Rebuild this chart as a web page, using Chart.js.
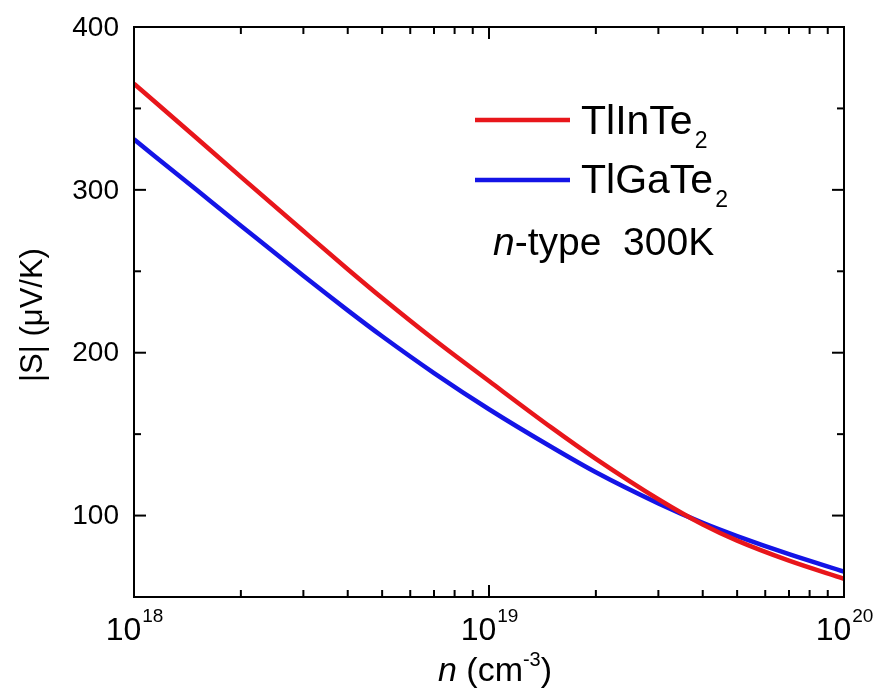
<!DOCTYPE html>
<html>
<head>
<meta charset="utf-8">
<script src="https://cdn.jsdelivr.net/npm/chart.js@4"></script>
<style>
  body { margin: 0; background: #fff; }
  canvas { display: block; }
</style>
</head>
<body>
<canvas id="grafico" width="879" height="696"></canvas>
<script>
// carrier concentration (cm^-3)
const conc = [1e18, 1.5e18, 2e18, 3e18, 4e18, 5e18, 7e18, 1e19, 1.5e19, 2e19, 3e19, 4e19, 5e19, 7e19, 1e20];
// |S| in uV/K
const tlInTe2 = [365.2, 331.8, 308, 274.7, 251.3, 233.6, 208.1, 182.6, 154, 134.8, 110, 94.5, 84.6, 72.3, 61.2];
const tlGaTe2 = [331, 300, 278, 247.2, 226, 210.1, 187.5, 165.3, 142.1, 126.6, 107.5, 95.5, 87.4, 76.3, 65.6];

const yTicks = [100, 200, 300, 400];
const yMinor = [150, 250, 350];
const xDecades = [18, 19, 20];

const FONT = '"Liberation Sans", Arial, sans-serif';

const toPoints = (ys) => conc.map((x, i) => ({ x: x, y: ys[i] }));

// draws frame, inward ticks, labels, titles and the legend box
const ejes = {
    id: 'ejes',
    afterDraw(chart) {
        const ctx = chart.ctx;
        const a = chart.chartArea;
        const xs = chart.scales.x;
        const ys = chart.scales.y;
        ctx.save();
        ctx.strokeStyle = '#000';
        ctx.fillStyle = '#000';
        ctx.lineWidth = 2;
        ctx.strokeRect(a.left, a.top, a.right - a.left, a.bottom - a.top);

        const tick = (x1, y1, x2, y2) => {
            ctx.beginPath(); ctx.moveTo(x1, y1); ctx.lineTo(x2, y2); ctx.stroke();
        };

        // y ticks (left and right)
        yTicks.forEach(v => {
            const p = ys.getPixelForValue(v);
            tick(a.left, p, a.left + 12, p);
            tick(a.right, p, a.right - 12, p);
        });
        yMinor.forEach(v => {
            const p = ys.getPixelForValue(v);
            tick(a.left, p, a.left + 7, p);
            tick(a.right, p, a.right - 7, p);
        });

        // x ticks (bottom and top)
        xDecades.forEach((d, i) => {
            const p = xs.getPixelForValue(Math.pow(10, d));
            tick(p, a.bottom, p, a.bottom - 12);
            tick(p, a.top, p, a.top + 12);
            if (i < xDecades.length - 1) {
                for (let m = 2; m <= 9; m++) {
                    const q = xs.getPixelForValue(m * Math.pow(10, d));
                    tick(q, a.bottom, q, a.bottom - 7);
                    tick(q, a.top, q, a.top + 7);
                }
            }
        });

        // y tick labels
        ctx.font = '28px ' + FONT;
        ctx.textAlign = 'right';
        ctx.textBaseline = 'middle';
        yTicks.forEach(v => {
            ctx.fillText(String(v), a.left - 15, ys.getPixelForValue(v) + 1);
        });

        // x tick labels 10^n
        ctx.textBaseline = 'alphabetic';
        ctx.textAlign = 'left';
        xDecades.forEach(d => {
            const p = xs.getPixelForValue(Math.pow(10, d));
            ctx.font = '32px ' + FONT;
            const w1 = ctx.measureText('10').width;
            ctx.font = '19px ' + FONT;
            const w2 = ctx.measureText(String(d)).width;
            const x0 = p - (w1 + w2) / 2;
            ctx.font = '32px ' + FONT;
            ctx.fillText('10', x0, 640);
            ctx.font = '19px ' + FONT;
            ctx.fillText(String(d), x0 + w1 + 1, 622);
        });

        // x title: n (cm^-3)
        const cx = (a.left + a.right) / 2;
        ctx.font = 'italic 34px ' + FONT;
        const wn = ctx.measureText('n').width;
        ctx.font = '34px ' + FONT;
        const wa = ctx.measureText(' (cm').width;
        const wc = ctx.measureText(')').width;
        ctx.font = '20px ' + FONT;
        const ws = ctx.measureText('-3').width;
        let x = cx - (wn + wa + ws + wc) / 2 + 6;
        const by = 681;
        ctx.font = 'italic 34px ' + FONT;
        ctx.fillText('n', x, by); x += wn;
        ctx.font = '34px ' + FONT;
        ctx.fillText(' (cm', x, by); x += wa;
        ctx.font = '20px ' + FONT;
        ctx.fillText('-3', x, by - 15); x += ws;
        ctx.font = '34px ' + FONT;
        ctx.fillText(')', x, by);

        // y title
        ctx.save();
        ctx.translate(33, (a.top + a.bottom) / 2 + 3);
        ctx.rotate(-Math.PI / 2);
        ctx.textAlign = 'center';
        ctx.textBaseline = 'middle';
        ctx.font = '31px ' + FONT;
        ctx.fillText('|S| (\u03bcV/K)', 0, 0);
        ctx.restore();

        // legend
        const filas = [
            { color: chart.data.datasets[0].borderColor, nombre: 'TlInTe', ly: 120, base: 134 },
            { color: chart.data.datasets[1].borderColor, nombre: 'TlGaTe', ly: 180, base: 193 }
        ];
        filas.forEach(f => {
            ctx.strokeStyle = f.color;
            ctx.lineWidth = 4.5;
            tick(475, f.ly, 570, f.ly);
            ctx.font = '41px ' + FONT;
            ctx.fillText(f.nombre, 581, f.base);
            const w = ctx.measureText(f.nombre).width;
            ctx.font = '23px ' + FONT;
            ctx.fillText('2', 581 + w + 2, f.base + 14);
        });
        ctx.font = 'italic 39px ' + FONT;
        ctx.fillText('n', 493, 255);
        const wi = ctx.measureText('n').width;
        ctx.font = '39px ' + FONT;
        ctx.fillText('-type  300K', 493 + wi, 255);

        ctx.restore();
    }
};

const ctx = document.getElementById('grafico').getContext('2d');
const grafico = new Chart(ctx, {
    type: 'line',
    data: {
        datasets: [
            {
                label: 'TlInTe2',
                data: toPoints(tlInTe2),
                borderColor: '#e8161b',
                borderWidth: 4.5,
                pointRadius: 0,
                fill: false,
                cubicInterpolationMode: 'monotone'
            },
            {
                label: 'TlGaTe2',
                data: toPoints(tlGaTe2),
                borderColor: '#1414e6',
                borderWidth: 4.5,
                pointRadius: 0,
                fill: false,
                cubicInterpolationMode: 'monotone'
            }
        ]
    },
    options: {
        responsive: false,
        animation: false,
        layout: { padding: { left: 134, right: 35, top: 27, bottom: 99 } },
        plugins: {
            legend: { display: false },
            tooltip: { enabled: false }
        },
        scales: {
            x: { type: 'logarithmic', min: 1e18, max: 1e20, display: false },
            y: { type: 'linear', min: 50, max: 400, display: false }
        }
    },
    plugins: [ejes]
});
</script>
</body>
</html>
